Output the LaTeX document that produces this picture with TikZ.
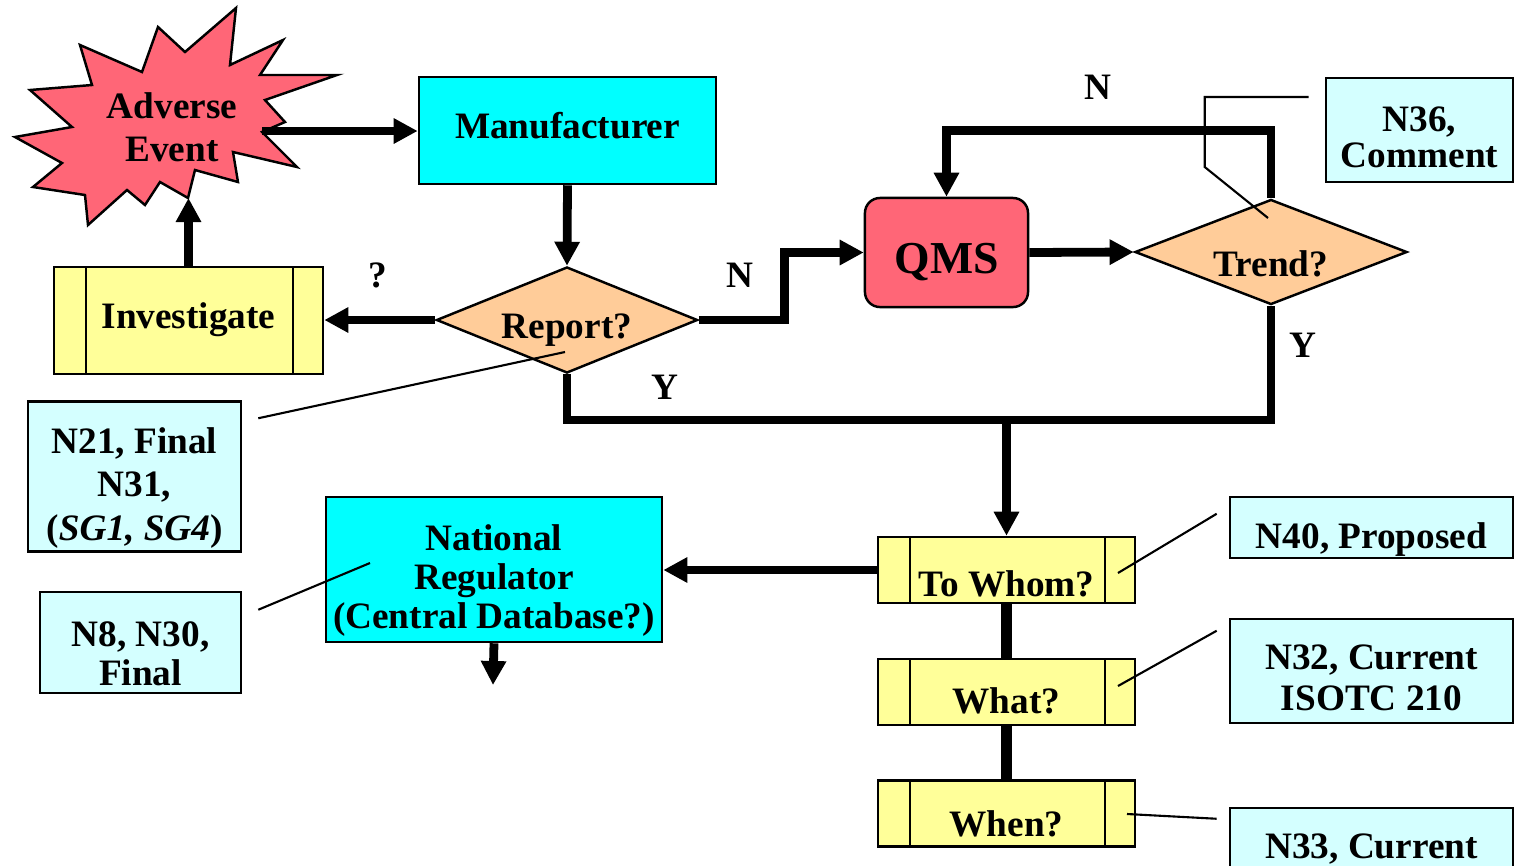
\documentclass[tikz,border=0pt]{standalone}
\usepackage{fontspec}
\setmainfont{Liberation Serif}
\usepackage{tikz}
\usetikzlibrary{positioning,shapes.geometric,arrows.meta}
\definecolor{boxcyan}{RGB}{0,255,255}
\definecolor{notecyan}{RGB}{212,255,255}
\definecolor{peach}{RGB}{255,204,153}
\definecolor{paleyellow}{RGB}{255,255,153}
\definecolor{alarm}{RGB}{255,102,119}
\tikzstyle{agent} = [draw, line width=0.7pt, fill=boxcyan, inner sep=1pt, align=center]
\tikzstyle{decision} = [draw, line width=0.7pt, fill=peach, shape=diamond, aspect=2.5, inner sep=0pt, text depth=0pt]
\tikzstyle{process} = [draw, line width=0.7pt, fill=paleyellow, inner sep=1pt, minimum width=2.57cm, minimum height=0.66cm,
	text height=0.45cm, text depth=0pt,
	path picture={\draw[line width=0.6pt] ([xshift=0.32cm]path picture bounding box.north west) -- ([xshift=0.32cm]path picture bounding box.south west)
		([xshift=-0.3cm]path picture bounding box.north east) -- ([xshift=-0.3cm]path picture bounding box.south east);}]
\tikzstyle{note} = [draw, line width=0.7pt, fill=notecyan, inner sep=1pt, align=center]
\tikzstyle{burst} = [draw, line width=0.7pt, fill=alarm]
\tikzstyle{flow} = [line width=2.5pt, -{Triangle[length=0.24cm,width=0.24cm]}]
\tikzstyle{wire} = [line width=2.5pt]
\tikzstyle{callout} = [line width=0.6pt]

\begin{document}
\begin{tikzpicture}[x=0.01cm, y=-0.01cm, every node/.style={font=\bfseries\fontsize{10.6}{11.5}\selectfont}]
	\useasboundingbox (0,0) rectangle (1517,866);
	\draw[burst] (236,8) -- (230,65) -- (283,40) -- (260,75) -- (337,75) -- (265,100) -- (285,122) -- (262,132)
		-- (297,167) -- (233,152) -- (238,182) -- (195,170) -- (188,198) -- (160,182) -- (145,205) -- (127,190)
		-- (88,225) -- (85,195) -- (33,187) -- (62,163) -- (15,137) -- (72,127) -- (30,90) -- (92,85)
		-- (80,45) -- (142,72) -- (158,27) -- (185,52) -- cycle;
	\node[align=center, font=\bfseries\fontsize{10.6}{12.2}\selectfont] (ae) at (172,127) {Adverse\\Event};
	\coordinate (ae-e) at (262,131);
	\coordinate (ae-s) at (188.5,198);

	\node[agent, minimum width=2.97cm, minimum height=1.07cm, text height=0.15cm, text depth=0pt] (man) at (567.5,130.5) {Manufacturer};
	\node[decision, minimum width=2.61cm, minimum height=1.06cm, text height=0.36cm] (rep) at (567,320) {Report?};
	\node[process, minimum width=2.69cm, minimum height=1.07cm, text height=0.15cm] (inv) at (188.5,320.5) {Investigate};
	\node[draw, line width=0.7pt, fill=alarm, rounded corners=0.15cm, minimum width=1.63cm, minimum height=1.09cm,
		text height=0.41cm, text depth=0pt, font=\bfseries\fontsize{13}{15}\selectfont] (qms) at (946.5,252.5) {QMS};
	\node[decision, minimum width=2.72cm, minimum height=1.05cm, text height=0.48cm] (tr) at (1271,252) {Trend?};
	\node[note, minimum width=1.87cm, minimum height=1.04cm, text height=0.745cm, font=\bfseries\fontsize{10.6}{10}\selectfont] (n36) at (1419.5,130) {N36,\\Comment};

	\node[note, minimum width=2.13cm, minimum height=1.47cm, text height=1.35cm, font=\bfseries\fontsize{10.6}{12.3}\selectfont] (n21) at (134.5,476.5) {N21, Final\\N31,\\(\textit{SG1, SG4})};
	\node[note, minimum width=2.01cm, minimum height=1.01cm, text height=0.856cm, font=\bfseries\fontsize{10.6}{10.9}\selectfont] (n8) at (140.5,642.5) {N8, N30,\\Final};
	\node[agent, minimum width=3.36cm, minimum height=1.45cm, text height=1.25cm, font=\bfseries\fontsize{10.6}{11.1}\selectfont] (nr) at (494,569.5) {National\\Regulator\\(Central Database?)};
	\coordinate (out) at (493,685);

	\node[process, text height=0.52cm] (tw) at (1006.5,570) {To Whom?};
	\node[process, text height=0.42cm] (wt) at (1006.5,692) {What?};
	\node[process] (wn) at (1006.5,813.5) {When?};
	\node[note, minimum width=2.83cm, minimum height=0.61cm, text height=0.42cm, text depth=0pt] (n40) at (1371.5,527.5) {N40, Proposed};
	\node[note, minimum width=2.83cm, minimum height=1.04cm, text height=0.79cm, font=\bfseries\fontsize{10.6}{11.7}\selectfont] (n32) at (1371.5,671) {N32, Current\\ISOTC 210};
	\node[note, minimum width=2.83cm, minimum height=0.64cm, text height=0.36cm, text depth=0pt] (n33) at (1371.5,840) {N33, Current};

	\node (q) at (378,275) {?};
	\node (rn) at (740,275) {N};
	\node (ry) at (665,387) {Y};
	\node (tn) at (1098,87) {N};
	\node (ty) at (1303,345) {Y};
	\coordinate (j) at (1006.5,420);

	\draw[flow] (ae-e) -- (man.west |- ae-e);
	\draw[flow] (inv.north) -- (ae-s);
	\draw[flow] (man.south) -- (rep.north);
	\draw[flow] (rep.west) -- (inv.east |- rep.west);
	\draw[flow] (rep.east) -- ++(86,0) |- (qms.west);
	\draw[flow] (qms.east) -- (tr.west);
	\draw[flow] (tr.north) -- ++(0,-68) -| (qms.north);
	\draw[wire] (rep.south) |- (j) -| (tr.south);
	\draw[flow] (j) -- (tw.north);
	\draw[flow] (tw.west) -- (nr.east |- tw.west);
	\draw[wire, line width=3pt] (tw.south) -- (wt.north);
	\draw[wire, line width=3pt] (wt.south) -- (wn.north);
	\draw[flow] (nr.south) -- (out);

	\draw[callout] ([shift={(16,18)}]n21.north east) -- ([shift={(-2,32)}]rep.center);
	\draw[callout] ([shift={(16,19)}]n8.north east) -- ([shift={(-124,-6.5)}]nr.center);
	\draw[callout] ([shift={(-16,-33)}]n36.west) -- ++(-104,0) -- ++(0,70) -- ([shift={(-3,-34)}]tr.center);
	\draw[callout] ([shift={(-12,18)}]n40.north west) -- ([shift={(111.5,3)}]tw.center);
	\draw[callout] ([shift={(-12,13)}]n32.north west) -- ([shift={(111.5,-6)}]wt.center);
	\draw[callout] ([shift={(-12,12)}]n33.north west) -- ([shift={(120.5,0.5)}]wn.center);
\end{tikzpicture}
\end{document}
